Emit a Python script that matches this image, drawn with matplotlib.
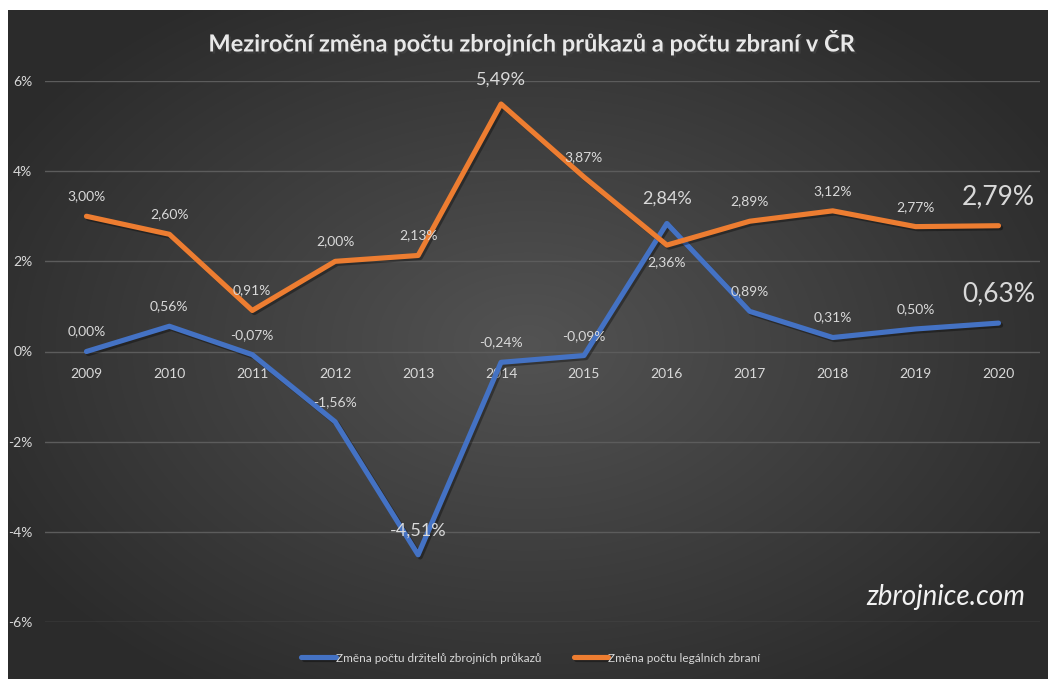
import numpy as np
import matplotlib
matplotlib.use("Agg")
import matplotlib.pyplot as plt
import matplotlib.patheffects as pe

# Data
roky = ["2009", "2010", "2011", "2012", "2013", "2014",
        "2015", "2016", "2017", "2018", "2019", "2020"]
drzitele = [0.00, 0.56, -0.07, -1.56, -4.51, -0.24, -0.09, 2.84, 0.89, 0.31, 0.50, 0.63]
zbrane = [3.00, 2.60, 0.91, 2.00, 2.13, 5.49, 3.87, 2.36, 2.89, 3.12, 2.77, 2.79]
y_ticky = [-6, -4, -2, 0, 2, 4, 6]
y_popisky = ["-6%", "-4%", "-2%", "0%", "2%", "4%", "6%"]
nazev_drzitele = "Změna počtu držitelů zbrojních průkazů"
nazev_zbrane = "Změna počtu legálních zbraní"
titulek = "Meziroční změna počtu zbrojních průkazů a počtu zbraní v ČR"

# zvýrazněné popisky (index -> velikost písma)
velke_drzitele = {4: 13, 7: 13, 11: 19}
velke_zbrane = {5: 13, 11: 19}
pod_carou_zbrane = {7}

FONT = ["Lato", "DejaVu Sans"]
plt.rcParams["font.family"] = FONT

MODRA = "#4472C4"
ORANZ = "#ED7D31"
TEXT = "#d9d9d9"

W, H = 1048, 679
fig = plt.figure(figsize=(W / 100, H / 100), dpi=100)
fig.patch.set_facecolor("white")

# Pozadí s radiálním přechodem
bg = fig.add_axes([8 / W, 0, 1 - 8 / W, (H - 10) / H], zorder=-10)
gx, gy = np.meshgrid(np.linspace(-1, 1, 400), np.linspace(-1, 1, 260))
r = np.sqrt((gx * 0.95) ** 2 + (gy * 0.9) ** 2)
val = np.clip(0.325 - 0.14 * r, 0.17, 0.325)
img = np.dstack([val, val, val])
bg.imshow(img, aspect="auto", extent=[0, 1, 0, 1], interpolation="bilinear")
bg.set_axis_off()

ax = fig.add_axes([45 / W, (H - 622) / H, (1040 - 45) / W, (622 - 81) / H])
ax.set_facecolor("none")

x = np.arange(len(roky))
stin = [pe.SimpleLineShadow(offset=(1.5, -1.5), shadow_color="black", alpha=0.35), pe.Normal()]
ax.plot(x, drzitele, color=MODRA, lw=3.7, solid_joinstyle="round",
        solid_capstyle="round", label=nazev_drzitele, path_effects=stin, zorder=3)
ax.plot(x, zbrane, color=ORANZ, lw=3.7, solid_joinstyle="round",
        solid_capstyle="round", label=nazev_zbrane, path_effects=stin, zorder=3)

ax.set_xlim(-0.5, len(roky) - 0.5)
ax.set_ylim(-6, 6)
ax.set_yticks(y_ticky)
ax.set_yticklabels(y_popisky)
ax.grid(axis="y", color="#5c5c5c", lw=1)
ax.set_axisbelow(True)
for s in ax.spines.values():
    s.set_visible(False)
ax.spines["bottom"].set_position(("data", 0))
ax.set_xticks(x)
ax.set_xticklabels(roky)
ax.tick_params(axis="x", length=0, pad=12, labelsize=10, labelcolor=TEXT)
ax.tick_params(axis="y", length=0, pad=9, labelsize=10, labelcolor=TEXT)


def popisek(hodnota):
    return f"{hodnota:.2f}%".replace(".", ",")


for i, v in enumerate(drzitele):
    vel = velke_drzitele.get(i, 10)
    posun = 10 if vel == 10 else 12
    ax.annotate(popisek(v), (i, v), xytext=(0, posun), textcoords="offset points",
                ha="center", va="bottom", fontsize=vel, color=TEXT, zorder=5,
                annotation_clip=False)

for i, v in enumerate(zbrane):
    vel = velke_zbrane.get(i, 10)
    posun = 10 if vel == 10 else 12
    if i in pod_carou_zbrane:
        ax.annotate(popisek(v), (i, v), xytext=(0, -8), textcoords="offset points",
                    ha="center", va="top", fontsize=vel, color=TEXT, zorder=5)
    else:
        ax.annotate(popisek(v), (i, v), xytext=(0, posun), textcoords="offset points",
                    ha="center", va="bottom", fontsize=vel, color=TEXT, zorder=5,
                    annotation_clip=False)

# Titulek
fig.text(532 / W, (H - 42) / H, titulek, ha="center", va="center", fontsize=17,
         fontweight="bold", color="#e8e8e8",
         path_effects=[pe.withSimplePatchShadow(offset=(1.5, -1.5), alpha=0.6)])

# Vodoznak
fig.text(1025 / W, (H - 597) / H, "zbrojnice.com", ha="right", va="center",
         fontsize=20, style="italic", color="#f2f2f2")

leg = fig.legend(loc="center", bbox_to_anchor=(531 / W, (H - 658) / H), ncol=2,
                 frameon=False, fontsize=8.5, handlelength=2.9, handletextpad=0.0,
                 columnspacing=2.8, labelcolor=TEXT)

fig.savefig("out.png", dpi=100, facecolor=fig.get_facecolor())
